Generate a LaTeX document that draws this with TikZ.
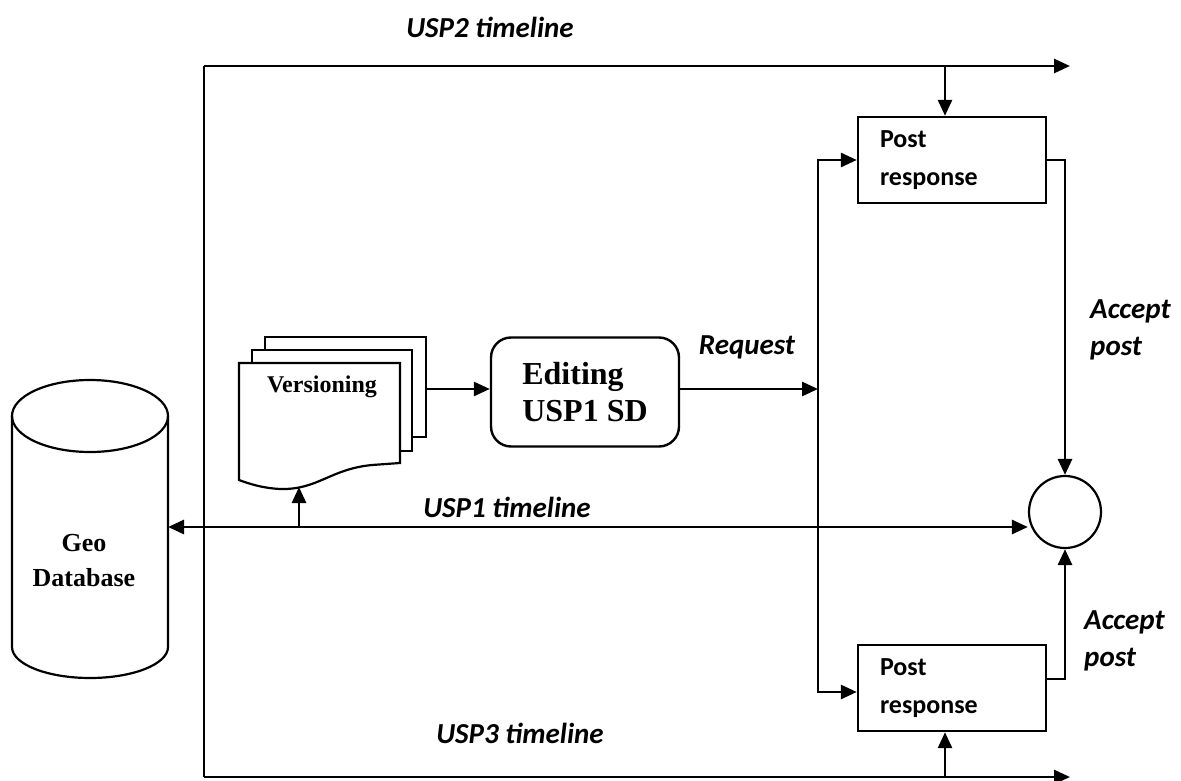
\documentclass[tikz,border=0pt]{standalone}
\usepackage{fontspec}
\setmainfont{Liberation Serif}
\newfontfamily\labelfont{Carlito}
\usetikzlibrary{arrows.meta,calc}

\tikzset{
  wire/.style={line width=2.8pt},
  arr/.style={wire,-{Triangle[length=16pt,width=14pt]}},
  darr/.style={wire,{Triangle[length=16pt,width=14pt]}-{Triangle[length=16pt,width=14pt]}},
  postbox/.style={draw,line width=2.4pt,fill=white,minimum height=86pt,
    text width=144pt,inner xsep=22pt,inner ysep=0pt,align=left,
    font=\labelfont\bfseries\fontsize{26}{38}\selectfont},
  tag/.style={font=\labelfont\bfseries\itshape\fontsize{29}{37}\selectfont,inner sep=0pt},
  page/.style={draw,line width=2.2pt,fill=white},
}

\begin{document}
\begin{tikzpicture}[x=1pt,y=-1pt]
\useasboundingbox (0,0) rectangle (1181,781);

% frame corners of the USP2 / USP3 timelines
\coordinate (tl) at (204,66);
\coordinate (tr) at (1070,66);
\coordinate (bl) at (204,777);
\coordinate (br) at (1070,777);

% geo database cylinder
\draw[line width=2.2pt,fill=white]
  (12,416) -- (12,647) arc[start angle=180,end angle=0,x radius=78,y radius=31]
  -- (168,416) arc[start angle=0,end angle=-180,x radius=78,y radius=36] -- cycle;
\draw[line width=2.2pt] (12,416) arc[start angle=180,end angle=0,x radius=78,y radius=36];
\node[align=center,font=\bfseries\fontsize{26}{35}\selectfont] (db) at (84,561) {Geo\\Database};
\coordinate (dbE) at (168,527);

% versioning document stack
\draw[page] (265,337) rectangle (426,437);
\draw[page] (252,350) rectangle (412,451);
\draw[page] (239,363) -- (400,363) -- (400,463) -- (372,465)
  .. controls (330,469) and (318,490) .. (280,489)
  .. controls (262,488) and (250,484) .. (239,480) -- cycle;
\node[font=\bfseries\fontsize{24}{28}\selectfont] (ver) at (322,387) {Versioning};
\coordinate (docR) at (426,389);
\coordinate (docB) at (299,487);

% editing process
\node[draw,line width=2.4pt,rounded corners=20pt,minimum width=188pt,minimum height=109pt,
  align=left,font=\bfseries\fontsize{32}{37}\selectfont] (ed) at (585,392) {Editing\\USP1 SD};

% post responses and merge point
\node[postbox] (up) at (952,160) {Post\\response};
\node[postbox] (low) at (952,688) {Post\\response};
\node[draw,circle,line width=2.2pt,minimum size=72pt,inner sep=0pt] (circ) at (1065,512) {};

% timelines
\draw[wire] (bl) -- (tl);
\draw[arr] (tl) -- (tr);
\draw[arr] (bl) -- (br);
\draw[darr] (dbE) -- (circ.west |- dbE);

\coordinate (t2) at (945,66);
\coordinate (t3) at (945,777);
\draw[arr] (t2) -- (t2 |- up.north);
\draw[arr] (t3) -- (t3 |- low.south);

% document flow
\coordinate (vb) at (docB |- dbE);
\draw[arr] (vb) -- (docB);
\draw[arr] (docR) -- (ed.west |- docR);

\coordinate (fork) at (818,389);
\draw[arr] (ed.east |- fork) -- (fork);
\draw[arr] (fork) |- (up.west);
\draw[arr] (fork) |- ([yshift=-4pt]low.west);

\draw[arr] (up.east) -| (circ.north);
\draw[arr] ([yshift=9pt]low.east) -| (circ.south);

% labels
\node[tag] (l2) at (490,27) {USP2 timeline};
\node[tag] (l1) at (507,507) {USP1 timeline};
\node[tag] (l3) at (520,733) {USP3 timeline};
\node[tag] (lr) at (747,347) {Request};
\node[tag,align=left,anchor=west] (la1) at (1090,330) {Accept\\post};
\node[tag,align=left,anchor=west] (la2) at (1084,641) {Accept\\post};
\end{tikzpicture}
\end{document}
